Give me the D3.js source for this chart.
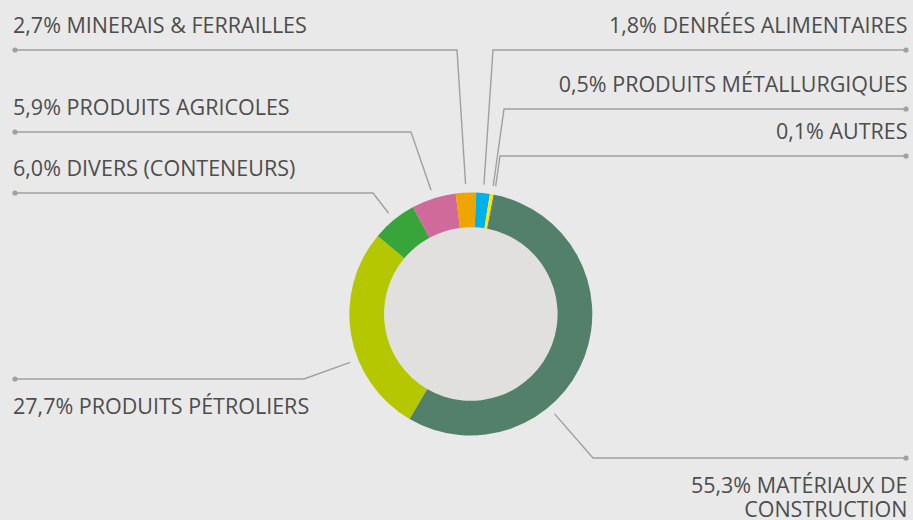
<!DOCTYPE html>
<html>
<head>
<meta charset="utf-8">
<script src="https://cdn.jsdelivr.net/npm/d3@7"></script>
<style>
  html, body { margin: 0; padding: 0; background: #e9e9e9; }
  svg { display: block; }
  .lbl { font-family: "Open Sans", "Noto Sans", sans-serif; font-size: 21.5px; fill: #4d4d4d; }
</style>
</head>
<body>
<svg width="913" height="520"></svg>
<script>
// data
var categories = ["MATÉRIAUX DE CONSTRUCTION", "PRODUITS PÉTROLIERS", "DIVERS (CONTENEURS)",
                  "PRODUITS AGRICOLES", "MINERAIS & FERRAILLES", "DENRÉES ALIMENTAIRES",
                  "PRODUITS MÉTALLURGIQUES", "AUTRES"];
var values = [55.3, 27.7, 6.0, 5.9, 2.7, 1.8, 0.5, 0.1];
var colors = ["#52806a", "#b5c700", "#37a53a", "#cf6a9b", "#f0a400", "#00b1ea", "#fce800", "#4b4a8c"];

// label layout: side of the page, y of the leader line, x of the elbow, where on the slice the leader starts
var labelSide  = ["right", "left", "left", "left", "left", "right", "right", "right"];
var labelLineY = [458, 379, 193, 132, 50, 50, 109, 156];
var labelElbow = [593, 304, 373, 411, 457, 493, 504, 500];
var labelT     = [0.647, 0.38, 0.5, 0.5, 0.5, 0.5, 0.5, 0.5];
var labelBelow = [true, true, false, false, false, false, false, false];

var svg = d3.select("svg");
var width = 913, height = 520;
var cx = 470.8, cy = 314;
var outerR = 121.5, innerR = 86.8, leadR = 130;

var fmt = function(v) { return v.toFixed(1).replace(".", ",") + "%"; };

var start = 11.2 * Math.PI / 180;
var pie = d3.pie().sort(null).value(function(d) { return d; })
    .startAngle(start).endAngle(start + 2 * Math.PI);
var arcs = pie(values);

var arc = d3.arc().innerRadius(innerR).outerRadius(outerR);

var g = svg.append("g").attr("transform", "translate(" + cx + "," + cy + ")");

g.append("circle")
    .attr("r", innerR + 1)
    .attr("fill", "#e1e0df");

g.selectAll("path.slice")
    .data(arcs)
    .enter()
    .append("path")
    .attr("class", "slice")
    .attr("d", arc)
    .attr("fill", function(d, i) { return colors[i]; });

// leaders
var leftX = 15, rightX = 906;

arcs.forEach(function(d, i) {
    var a = d.startAngle + (d.endAngle - d.startAngle) * labelT[i];
    var px = cx + leadR * Math.sin(a);
    var py = cy - leadR * Math.cos(a);
    var ly = labelLineY[i];
    var endX = labelSide[i] == "left" ? leftX : rightX;

    svg.append("polyline")
        .attr("points", [[px, py], [labelElbow[i], ly], [endX, ly]].map(function(p) { return p.join(","); }).join(" "))
        .attr("fill", "none")
        .attr("stroke", "#a0a0a0")
        .attr("stroke-width", 1.4);

    svg.append("circle")
        .attr("cx", endX)
        .attr("cy", ly)
        .attr("r", 2.6)
        .attr("fill", "#a0a0a0");

    var tx = labelSide[i] == "left" ? 13 : 907.5;
    var anchor = labelSide[i] == "left" ? "start" : "end";
    var text = svg.append("text")
        .attr("class", "lbl")
        .attr("text-anchor", anchor);

    var str = fmt(values[i]) + " " + categories[i];
    if (labelBelow[i]) {
        var lines = [str];
        if (i == 0) lines = [fmt(values[i]) + " MATÉRIAUX DE", "CONSTRUCTION"];
        lines.forEach(function(s, k) {
            text.append("tspan")
                .attr("x", tx)
                .attr("y", ly + 35 + k * 24)
                .text(s);
        });
    } else {
        text.attr("x", tx).attr("y", ly - 17.5).text(str);
    }
});
</script>
</body>
</html>
